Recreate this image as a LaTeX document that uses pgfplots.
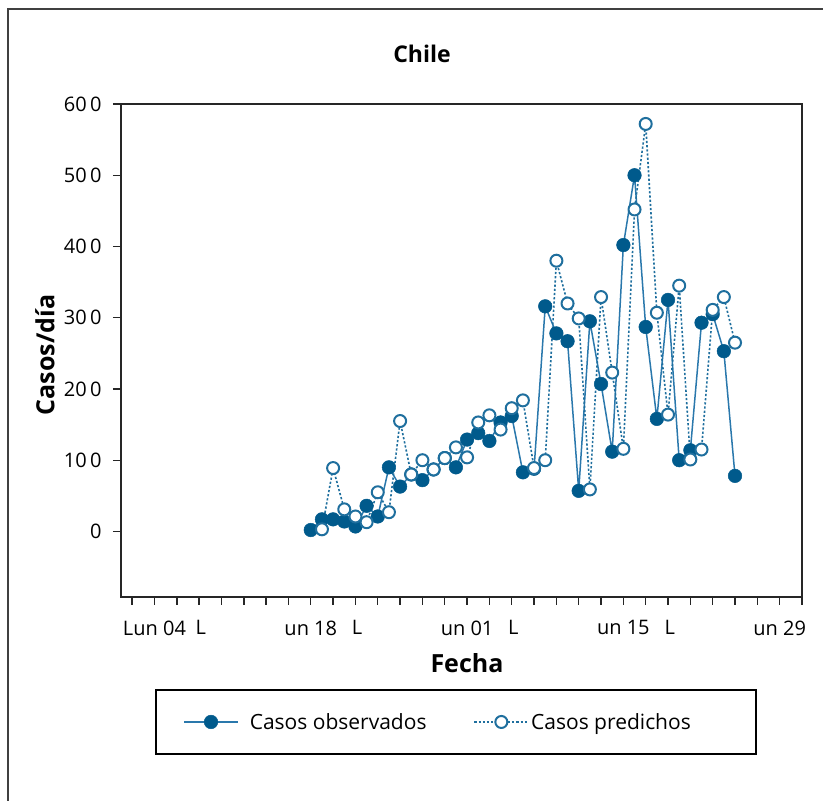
\documentclass[border=0pt]{standalone}
\usepackage{pgfplots}
\pgfplotsset{compat=1.18}
\usepackage{fontspec}
\setmainfont{Open Sans}
\definecolor{obs}{HTML}{005A8C}
\definecolor{obsline}{HTML}{2A78AC}
\definecolor{pred}{HTML}{1F6F9E}

\pgfplotstableread{
d v
14 2
15 17
16 17
17 14
18 7
19 36
20 21
21 90
22 63
23 80
24 72
25 87
26 103
27 90
28 129
29 138
30 127
31 153
32 162
33 83
34 88
35 316
36 278
37 267
38 57
39 295
40 207
41 112
42 402
43 500
44 287
45 158
46 325
47 100
48 114
49 293
50 305
51 253
52 78
}\observed

\pgfplotstableread{
d v
15 3
16 89
17 31
18 21
19 13
20 55
21 27
22 155
23 80
24 100
25 87
26 103
27 118
28 104
29 153
30 163
31 143
32 173
33 184
34 89
35 100
36 380
37 320
38 299
39 59
40 329
41 223
42 116
43 452
44 572
45 307
46 164
47 345
48 101
49 115
50 311
51 329
52 265
}\predicted

\newcommand{\Lfrag}{\makebox[0pt][l]{\hspace{-37pt}L}}

\begin{document}
\begin{tikzpicture}[x=1pt,y=1pt]
\useasboundingbox (0,0) rectangle (823,801);
\draw[line width=2pt, black!75] (8,-20) -- (8,792) -- (840,792);
\begin{axis}[
  at={(121pt,204pt)}, anchor=south west,
  scale only axis, width=681pt, height=493pt,
  xmin=-3, xmax=58, ymin=-92, ymax=600,
  axis line style={line width=1.6pt, black!85},
  tick align=outside, tick pos=left,
  every tick/.style={line width=1.4pt, black!85},
  major tick length=8pt,
  xtick={-2,0,...,58}, xticklabels={},
  extra x ticks={0,7,...,56},
  extra x tick labels={Lun 04,\Lfrag,un 18,\Lfrag,un 01,\Lfrag,un 15,\Lfrag,un 29},
  extra x tick style={major tick length=0pt, xticklabel style={yshift=-20pt}},
  ytick={0,100,...,600},
  yticklabels={0,10\,0,20\,0,30\,0,40\,0,50\,0,60\,0},
  yticklabel style={xshift=-8pt},
  tick label style={font=\fontsize{20}{23}\selectfont, text=black},
  title={Chile},
  title style={at={(0.442,1.089)}, anchor=center, font=\bfseries\fontsize{23}{27}\selectfont},
  xlabel={Fecha},
  xlabel style={at={(axis description cs:0.508,-0.134)}, anchor=center, font=\bfseries\fontsize{25}{29}\selectfont},
  ylabel={Casos/día},
  ylabel style={at={(axis description cs:-0.1116,0.491)}, anchor=center, rotate=0, font=\bfseries\fontsize{25}{29}\selectfont},
  legend columns=2,
  legend style={at={(0.492,-0.2535)}, anchor=center, draw=black, line width=1.6pt,
    font=\fontsize{21}{25}\selectfont, inner xsep=27pt, inner ysep=21pt,
    /tikz/every even column/.append style={column sep=45pt}},
  legend image code/.code={\draw[mark repeat=2,mark phase=2,#1] plot coordinates {(0pt,0pt) (27pt,0pt) (54pt,0pt)};},
]
\addplot[color=obsline, line width=1.5pt, mark=*, mark size=6.8pt,
  mark options={solid, fill=obs, draw=obs, line width=0.5pt}]
  table[x=d, y=v] {\observed};
\addlegendentry{\hspace{9pt}Casos observados}
\addplot[color=pred, line width=1.6pt, dash pattern=on 2.2pt off 2pt, mark=*, mark size=6pt,
  mark options={solid, fill=white, draw=pred, line width=2pt}]
  table[x=d, y=v] {\predicted};
\addlegendentry{Casos predichos\hspace{36pt}\mbox{}}
\end{axis}
\end{tikzpicture}
\end{document}
